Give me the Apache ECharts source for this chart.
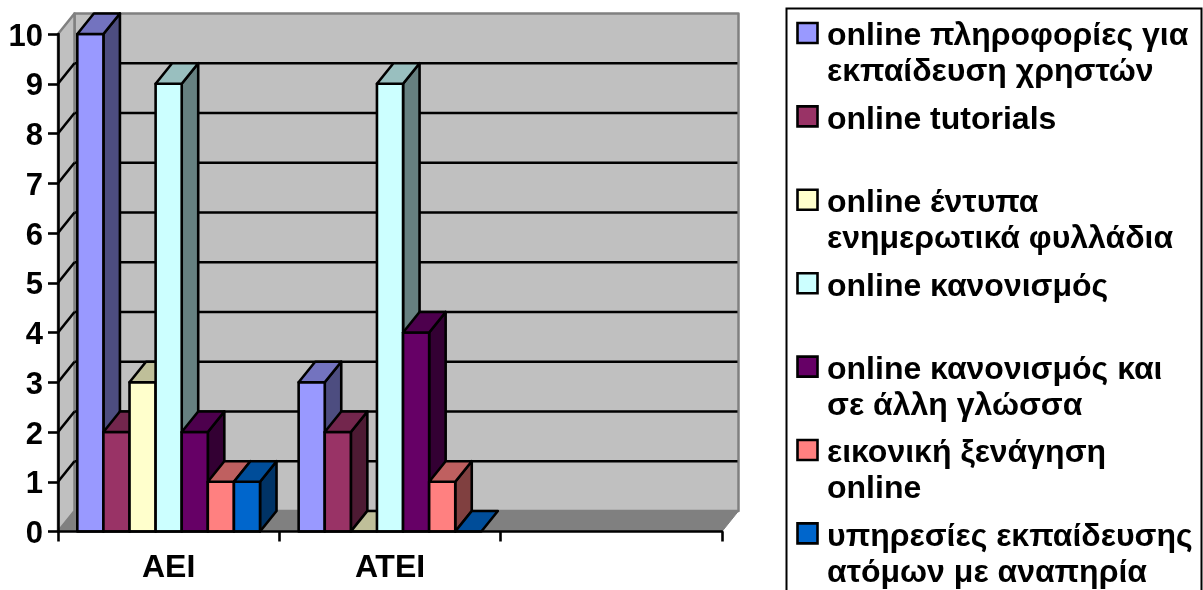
<!DOCTYPE html>
<html>
<head>
<meta charset="utf-8">
<style>
  html, body { margin: 0; padding: 0; background: #fff; }
  #chart { width: 1203px; height: 590px; }
</style>
<script src="https://cdn.jsdelivr.net/npm/echarts@6/dist/echarts.min.js"></script>
</head>
<body>
<div id="chart"></div>
<script>
const categories = ['ΑΕΙ', 'ΑΤΕΙ', ''];
const yTicks = [1, 2, 3, 4, 5, 6, 7, 8, 9, 10];

const seriesNames = [
  'online πληροφορίες για\nεκπαίδευση χρηστών',
  'online tutorials',
  'online έντυπα\nενημερωτικά φυλλάδια',
  'online κανονισμός',
  'online κανονισμός και\nσε άλλη γλώσσα',
  'εικονική ξενάγηση\nonline',
  'υπηρεσίες εκπαίδευσης\nατόμων με αναπηρία'
];

const infoValues = [10, 3, null];
const tutorialValues = [2, 2, null];
const leafletValues = [3, 0, null];
const regulationValues = [9, 9, null];
const regulationLangValues = [2, 4, null];
const tourValues = [1, 1, null];
const disabilityValues = [1, 0, null];
const allValues = [infoValues, tutorialValues, leafletValues, regulationValues, regulationLangValues, tourValues, disabilityValues];

const colors = ['#9999FF', '#993366', '#FFFFCC', '#CCFFFF', '#660066', '#FF8080', '#0066CC'];

// depth of the fake 3d box, in pixels
const DX = 16.5;
const DY = -20.5;
const FONT = '"Liberation Sans", Arial, sans-serif';
const STROKE = 2.6;

function shade(hex, f) {
  const n = parseInt(hex.slice(1), 16);
  const r = Math.round((n >> 16 & 255) * f);
  const g = Math.round((n >> 8 & 255) * f);
  const b = Math.round((n & 255) * f);
  return `rgb(${r},${g},${b})`;
}

function poly(points, fill, stroke, width) {
  return {
    type: 'polygon',
    shape: { points },
    style: { fill, stroke: stroke || null, lineWidth: width || 0, lineJoin: 'round' }
  };
}

function line(x1, y1, x2, y2, stroke, width) {
  return { type: 'line', shape: { x1, y1, x2, y2 }, style: { stroke, lineWidth: width } };
}

// back wall, side wall, floor and the grid lines behind the bars
function renderWalls(params, api) {
  const cs = params.coordSys;
  const l = cs.x, r = cs.x + cs.width, t = cs.y, b = cs.y + cs.height;
  const children = [
    poly([[l + DX, t + DY], [r + DX, t + DY], [r + DX, b + DY], [l + DX, b + DY]], '#C0C0C0', '#808080', 2.5),
    poly([[l, t], [l + DX, t + DY], [l + DX, b + DY], [l, b]], '#C0C0C0', '#808080', 2.5),
    poly([[l, b], [l + DX, b + DY], [r + DX, b + DY], [r, b]], '#808080', '#808080', 1)
  ];
  yTicks.forEach(v => {
    const y = api.coord([0, v])[1];
    if (v < 10) {
      children.push(line(l + DX, y + DY, r + DX - 1, y + DY, '#000', STROKE));
      children.push(line(l, y, l + DX, y + DY, '#000', STROKE));
    }
  });
  return { type: 'group', children };
}

function barRenderer(seriesIdx) {
  return function (params, api) {
    const val = api.value(1);
    if (val === null || isNaN(val)) return null;
    const band = api.size([1, 0])[0];
    const barW = 26.1;
    const gap = (band - barW * seriesNames.length) / 2;
    const x0 = api.coord([api.value(0), 0])[0] - band / 2 + gap + seriesIdx * barW;
    const x1 = x0 + barW;
    const yTop = api.coord([0, val])[1];
    const yBot = api.coord([0, 0])[1];
    const c = colors[seriesIdx];
    const children = [];
    if (val > 0) {
      children.push(poly([[x1, yTop], [x1 + DX, yTop + DY], [x1 + DX, yBot + DY], [x1, yBot]], shade(c, 0.5), '#000', STROKE));
      children.push(poly([[x0, yTop], [x1, yTop], [x1, yBot], [x0, yBot]], c, '#000', STROKE));
    }
    children.push(poly([[x0, yTop], [x0 + DX, yTop + DY], [x1 + DX, yTop + DY], [x1, yTop]], shade(c, 0.75), '#000', STROKE));
    return { type: 'group', children };
  };
}

const barSeries = seriesNames.map((name, i) => ({
  name: name,
  type: 'custom',
  z: 2 + i,
  clip: false,
  renderItem: barRenderer(i),
  encode: { x: 0, y: 1 },
  data: allValues[i].map((v, k) => [k, v])
}));

// legend is drawn by hand: the marker sits on the first line of two line labels
const legendTop = 23;
const legendStep = 83.4;
const legendItems = [];
seriesNames.forEach((name, i) => {
  const y = legendTop + i * legendStep;
  legendItems.push({
    type: 'rect',
    shape: { x: 797.5, y: y, width: 20, height: 20 },
    style: { fill: colors[i], stroke: '#000', lineWidth: STROKE }
  });
  legendItems.push({
    type: 'text',
    x: 827,
    y: y - 4.5,
    style: { text: name, fill: '#000', font: 'bold 32px ' + FONT, lineHeight: 36, textAlign: 'left', textVerticalAlign: 'top' }
  });
});

const option = {
  animation: false,
  backgroundColor: '#fff',
  grid: { left: 58, top: 34, width: 664, height: 497.5 },
  xAxis: {
    type: 'category',
    data: categories,
    z: 20,
    axisLine: { show: true, lineStyle: { color: '#000', width: STROKE } },
    axisTick: { show: true, alignWithLabel: false, length: 10, lineStyle: { color: '#000', width: STROKE } },
    axisLabel: { color: '#000', fontFamily: FONT, fontWeight: 'bold', fontSize: 32, margin: 21 }
  },
  yAxis: {
    type: 'value',
    min: 0,
    max: 10,
    interval: 1,
    z: 20,
    splitLine: { show: false },
    axisLine: { show: true, lineStyle: { color: '#000', width: STROKE } },
    axisTick: { show: true, length: 10, lineStyle: { color: '#000', width: STROKE } },
    axisLabel: {
      margin: 15,
      formatter: '{a|{value}}',
      rich: { a: { color: '#000', fontFamily: FONT, fontWeight: 'bold', fontSize: 31, padding: [6, 0, 0, 0] } }
    }
  },
  graphic: [
    {
      type: 'rect',
      z: 0,
      shape: { x: 786.5, y: 8.5, width: 415, height: 600 },
      style: { fill: '#fff', stroke: '#000', lineWidth: 2 }
    },
    { type: 'group', z: 1, children: legendItems }
  ],
  series: [
    {
      type: 'custom',
      z: 1,
      silent: true,
      clip: false,
      renderItem: renderWalls,
      data: [[0, 0]]
    }
  ].concat(barSeries)
};

const chart = echarts.init(document.getElementById('chart'));
chart.setOption(option);
</script>
</body>
</html>
